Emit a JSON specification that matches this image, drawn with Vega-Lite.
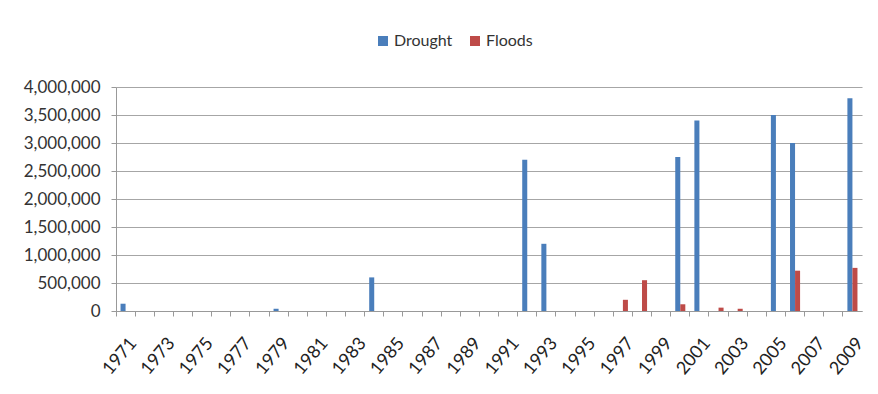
{
  "$schema": "https://vega.github.io/schema/vega-lite/v6.json",
  "width": 746,
  "height": 224,
  "autosize": {"type": "none"},
  "padding": {"left": 116, "top": 87, "right": 16, "bottom": 83},
  "background": "white",
  "config": {
    "font": "Lato",
    "view": {"stroke": null}
  },
  "data": {
    "values": [
      {"year": 1971, "type": "Drought", "value": 130000},
      {"year": 1979, "type": "Drought", "value": 40000},
      {"year": 1984, "type": "Drought", "value": 600000},
      {"year": 1992, "type": "Drought", "value": 2700000},
      {"year": 1993, "type": "Drought", "value": 1200000},
      {"year": 1997, "type": "Floods", "value": 200000},
      {"year": 1998, "type": "Floods", "value": 550000},
      {"year": 2000, "type": "Drought", "value": 2750000},
      {"year": 2000, "type": "Floods", "value": 120000},
      {"year": 2001, "type": "Drought", "value": 3400000},
      {"year": 2002, "type": "Floods", "value": 60000},
      {"year": 2003, "type": "Floods", "value": 40000},
      {"year": 2005, "type": "Drought", "value": 3500000},
      {"year": 2006, "type": "Drought", "value": 3000000},
      {"year": 2006, "type": "Floods", "value": 720000},
      {"year": 2009, "type": "Drought", "value": 3800000},
      {"year": 2009, "type": "Floods", "value": 770000}
    ]
  },
  "mark": {"type": "bar"},
  "encoding": {
    "x": {
      "field": "year",
      "type": "ordinal",
      "scale": {
        "domain": [1971,1972,1973,1974,1975,1976,1977,1978,1979,1980,1981,1982,1983,1984,1985,1986,1987,1988,1989,1990,1991,1992,1993,1994,1995,1996,1997,1998,1999,2000,2001,2002,2003,2004,2005,2006,2007,2008,2009],
        "paddingInner": 0,
        "paddingOuter": 0
      },
      "axis": {
        "title": null,
        "bandPosition": 0,
        "labelOffset": 8,
        "labelAngle": -50,
        "labelAlign": "right",
        "labelBaseline": "middle",
        "labelPadding": 24,
        "labelFontSize": 18,
        "labelColor": "#222222",
        "labelExpr": "(datum.value - 1971) % 2 == 0 ? datum.label : ''",
        "tickColor": "#999999",
        "tickSize": 5,
        "domainColor": "#999999",
        "grid": false
      }
    },
    "xOffset": {
      "field": "type",
      "scale": {"domain": ["Drought", "Floods"], "paddingInner": 0, "paddingOuter": 0.9}
    },
    "y": {
      "field": "value",
      "type": "quantitative",
      "scale": {"domain": [0, 4000000]},
      "axis": {
        "title": null,
        "values": [0, 500000, 1000000, 1500000, 2000000, 2500000, 3000000, 3500000, 4000000],
        "format": ",.0f",
        "labelFontSize": 17,
        "labelColor": "#333333",
        "labelPadding": 11,
        "tickColor": "#999999",
        "tickSize": 5,
        "domainColor": "#999999",
        "gridColor": "#a6a6a6",
        "gridWidth": 1.2
      }
    },
    "color": {
      "field": "type",
      "type": "nominal",
      "scale": {"domain": ["Drought", "Floods"], "range": ["#4a7ebb", "#be4b48"]},
      "legend": {
        "title": null,
        "orient": "none",
        "legendX": 259,
        "legendY": -54,
        "direction": "horizontal",
        "symbolType": "square",
        "symbolSize": 100,
        "symbolStrokeWidth": 0,
        "labelFontSize": 16,
        "labelColor": "#333333",
        "columnPadding": 14,
        "labelOffset": 3
      }
    }
  }
}
